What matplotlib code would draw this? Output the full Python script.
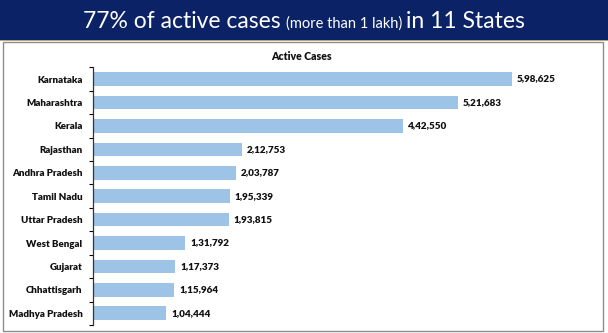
import matplotlib
matplotlib.use("Agg")
import matplotlib.pyplot as plt
from matplotlib.patches import Rectangle
import numpy as np

states = ["Karnataka", "Maharashtra", "Kerala", "Rajasthan", "Andhra Pradesh",
          "Tamil Nadu", "Uttar Pradesh", "West Bengal", "Gujarat",
          "Chhattisgarh", "Madhya Pradesh"]
active = [598625, 521683, 442550, 212753, 203787, 195339, 193815,
          131792, 117373, 115964, 104444]
value_labels = ["5,98,625", "5,21,683", "4,42,550", "2,12,753", "2,03,787",
                "1,95,339", "1,93,815", "1,31,792", "1,17,373", "1,15,964",
                "1,04,444"]

W, H = 608, 333
NAVY = "#0b2266"
BAR = "#9dc3e6"

fig = plt.figure(figsize=(W / 100, H / 100), dpi=100)

# header band
fig.patches.append(Rectangle((0, 1 - 40 / H), 1, 40 / H, transform=fig.transFigure,
                             facecolor=NAVY, edgecolor="none", zorder=0))
fig.patches.append(Rectangle((0, 1 - 41 / H), 1, 1.2 / H, transform=fig.transFigure,
                             facecolor="#b8a676", edgecolor="none", zorder=0))
# panel border
fig.patches.append(Rectangle((3 / W, 2 / H), 600 / W, 289 / H, transform=fig.transFigure,
                             facecolor="none", edgecolor="#8c8c8c", linewidth=1.0, zorder=0))

# title pieces with mixed font sizes
pieces = [("77% of active cases ", 16.5), ("(more than 1 lakh) ", 10.5), ("in 11 States", 16.5)]
renderer = fig.canvas.get_renderer()
texts = []
for s, size in pieces:
    t = fig.text(0, 1 - 28 / H, s, color="white", fontsize=size, family="Lato",
                 va="baseline", ha="left")
    texts.append(t)
widths = [t.get_window_extent(renderer).width for t in texts]
x = (304 - sum(widths) / 2) / W
for t, w in zip(texts, widths):
    t.set_x(x)
    x += w / W

ax = fig.add_axes([93 / W, 1 - 325 / H, 490 / W, (325 - 67.3) / H])
y = np.arange(len(states))
ax.barh(y, active, height=0.58, color=BAR, edgecolor="none")
ax.set_ylim(len(states) - 0.5, -0.5)
ax.set_xlim(0, 700000)

for yi, v, lab in zip(y, active, value_labels):
    ax.annotate(lab, (v, yi), xytext=(3.5, 0), textcoords="offset points",
                va="center", ha="left", fontsize=7.1, fontweight="heavy",
                family="Lato", color="#111111")

ax.set_yticks(y)
ax.set_yticklabels(states, fontsize=7.0, fontweight="heavy", family="Lato",
                   color="#111111")
ax.set_yticks(np.arange(len(states) + 1) - 0.5, minor=True)
ax.tick_params(axis="y", which="major", length=0, pad=7.5)
ax.tick_params(axis="y", which="minor", length=3, width=0.8, direction="out")
ax.set_xticks([])
for side in ("top", "right", "bottom"):
    ax.spines[side].set_visible(False)
ax.spines["left"].set_linewidth(0.9)
ax.spines["left"].set_color("#333333")

fig.text(0.495, 1 - 57 / H, "Active Cases", ha="center", va="center", fontsize=7.6,
         fontweight="heavy", family="Lato", color="#111111")

fig.savefig("out.png", dpi=100)
